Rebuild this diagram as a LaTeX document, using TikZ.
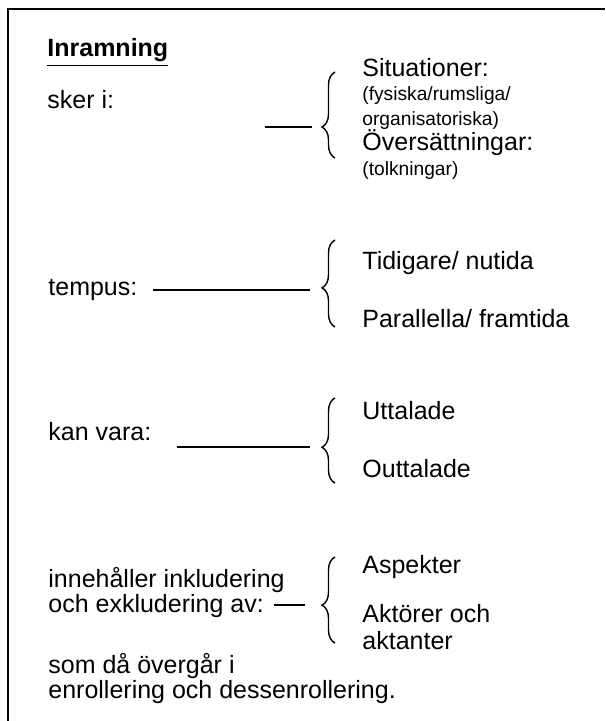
\documentclass[tikz,border=0pt]{standalone}
\usepackage{fontspec}
\setmainfont{Liberation Sans}
\usetikzlibrary{decorations.pathreplacing}

\begin{document}
\begin{tikzpicture}[x=0.5pt, y=-0.5pt,
	txt/.style={anchor=base west, inner sep=0pt, font=\fontsize{12.5}{13}\selectfont},
	smalltxt/.style={anchor=base west, inner sep=0pt, font=\fontsize{9.6}{11}\selectfont},
	headtxt/.style={anchor=base west, inner sep=0pt, font=\fontsize{12.5}{13}\selectfont\bfseries},
	lead/.style={line width=0.9pt},
	curly/.style={decorate, decoration={brace, amplitude=6.5pt, aspect=#1}, line width=0.7pt}]
			%%%%% START %%%%%
			\useasboundingbox (0, 0) rectangle (605, 721);
			
			\draw[line width=1.1pt] (605, 9) -- (8, 9) -- (8, 721);
			
			\node[headtxt] (head) at (47, 57) {\underline{Inramning}};
			
			\node[txt] (sker) at (47, 109) {sker i:};
			\node[txt] (sit) at (362, 77) {Situationer:};
			\node[smalltxt] (fys) at (362, 101) {(fysiska/rumsliga/};
			\node[smalltxt] (org) at (362, 126) {organisatoriska)};
			\node[txt] (overs) at (362, 151) {Översättningar:};
			\node[smalltxt] (tolk) at (362, 176) {(tolkningar)};
			\coordinate (b1s) at (335, 158);
			\coordinate (b1e) at (335, 72);
			\coordinate (b1t) at (322, 127);
			\coordinate (l1) at (265, 127);
			\draw[curly=0.36] (b1s) -- (b1e);
			\draw[lead] (l1) -- ([xshift=-5pt]b1t);
			
			\node[txt] (tempus) at (48, 295) {tempus:};
			\node[txt] (tid) at (362, 270) {Tidigare/ nutida};
			\node[txt] (par) at (362, 327) {Parallella/ framtida};
			\coordinate (b2s) at (335, 327);
			\coordinate (b2e) at (335, 240);
			\coordinate (b2t) at (322, 288);
			\coordinate (l2) at (153, 290);
			\draw[curly=0.45] (b2s) -- (b2e);
			\draw[lead] (l2) -- ([xshift=-6pt]b2t |- l2);
			
			\node[txt] (kan) at (48, 440) {kan vara:};
			\node[txt] (utt) at (362, 419) {Uttalade};
			\node[txt] (outt) at (362, 477) {Outtalade};
			\coordinate (b3s) at (335, 483);
			\coordinate (b3e) at (335, 398);
			\coordinate (b3t) at (322, 447);
			\coordinate (l3) at (177, 447);
			\draw[curly=0.42] (b3s) -- (b3e);
			\draw[lead] (l3) -- ([xshift=-6pt]b3t);
			
			\node[txt] (inneh) at (48, 587) {innehåller inkludering};
			\node[txt] (exkl) at (48, 612) {och exkludering av:};
			\node[txt] (asp) at (362, 573) {Aspekter};
			\node[txt] (akt) at (362, 622) {Aktörer och};
			\node[txt] (akta) at (362, 649) {aktanter};
			\coordinate (b4s) at (335, 643);
			\coordinate (b4e) at (335, 557);
			\coordinate (b4t) at (322, 605);
			\coordinate (l4) at (274, 605);
			\draw[curly=0.44] (b4s) -- (b4e);
			\draw[lead] (l4) -- ([xshift=-8.5pt]b4t);
			
			\node[txt] (som) at (48, 673) {som då övergår i};
			\node[txt] (enroll) at (48, 698) {enrollering och dessenrollering.};
			%%%%% END %%%%%
\end{tikzpicture}
\end{document}
